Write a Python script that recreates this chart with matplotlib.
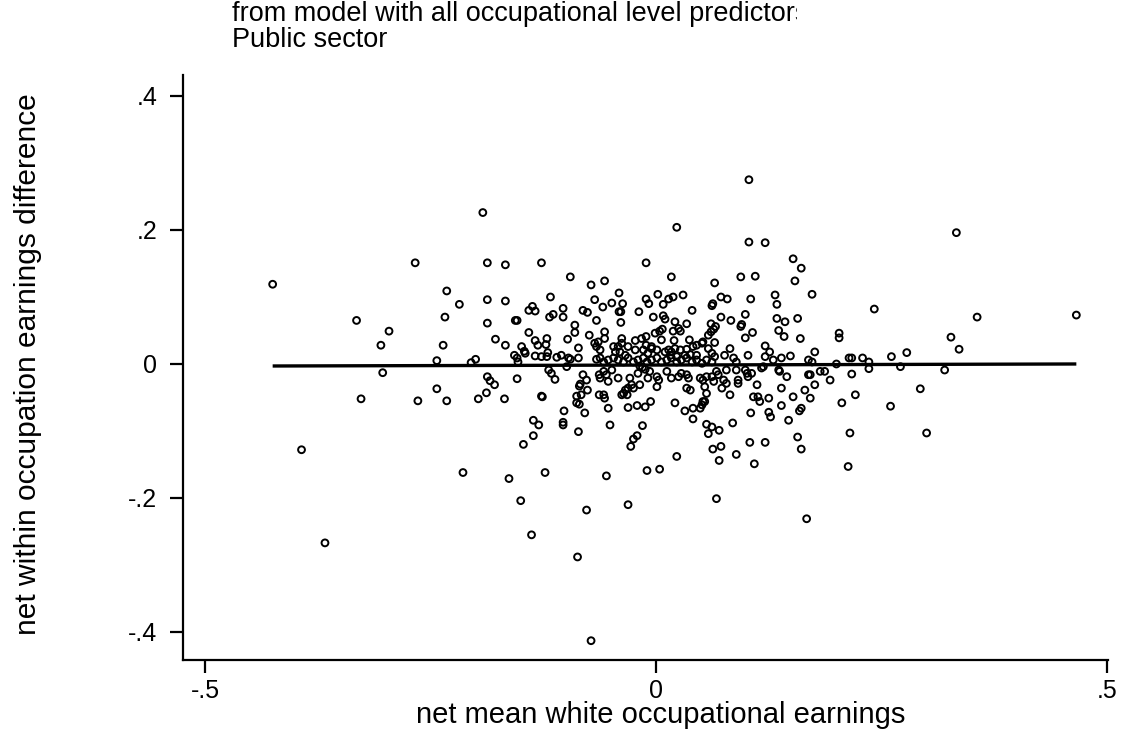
import numpy as np
import matplotlib
matplotlib.use("Agg")
import matplotlib.pyplot as plt
from matplotlib.transforms import Bbox, TransformedBbox

plt.rcParams['font.family'] = ['Liberation Sans', 'DejaVu Sans']

title_line1 = "from model with all occupational level predictors"
title_line2 = "Public sector"
x_label = "net mean white occupational earnings"
y_label = "net within occupation earnings difference"
x_ticks = [-0.5, 0, 0.5]
x_tick_labels = ["-.5", "0", ".5"]
y_ticks = [-0.4, -0.2, 0, 0.2, 0.4]
y_tick_labels = ["-.4", "-.2", "0", ".2", ".4"]

# (net mean white occupational earnings, net within occupation earnings difference)
outer_points = [
    (-0.425, 0.119), (-0.393, -0.128), (-0.367, -0.267), (-0.332, 0.065), (-0.327, -0.052),
    (-0.305, 0.028), (-0.303, -0.013), (-0.296, 0.049), (-0.267, 0.151), (-0.264, -0.055),
    (-0.243, 0.005), (-0.243, -0.037), (-0.236, 0.028), (-0.234, 0.070), (-0.232, 0.109),
    (-0.232, -0.055), (-0.218, 0.089), (-0.214, -0.162), (-0.205, 0.002), (-0.200, 0.007),
    (-0.197, -0.052), (-0.192, 0.226), (-0.163, -0.171), (-0.150, -0.204), (-0.138, -0.255),
    (-0.123, -0.162), (-0.087, -0.288), (-0.077, -0.218), (-0.072, -0.413), (-0.031, -0.210),
    (0.067, -0.201), (0.167, -0.231), (0.103, 0.275), (0.023, 0.204), (0.103, 0.182),
    (0.121, 0.181), (0.152, 0.157), (0.161, 0.143), (0.154, 0.124), (0.173, 0.104),
    (0.333, 0.196), (0.242, 0.082), (0.356, 0.070), (0.466, 0.073), (0.327, 0.040),
    (0.336, 0.022), (0.278, 0.017), (0.261, 0.011), (0.217, 0.009), (0.229, 0.009),
    (0.236, 0.003), (0.236, -0.007), (0.217, -0.015), (0.271, -0.004), (0.320, -0.009),
    (0.221, -0.046), (0.293, -0.037), (0.260, -0.063), (0.215, -0.103), (0.300, -0.103),
    (0.213, -0.153), (0.206, -0.058),
]

left_upper = [
    (-0.187, 0.151), (-0.167, 0.148), (-0.127, 0.151), (-0.095, 0.130), (-0.072, 0.118),
    (-0.187, 0.096), (-0.167, 0.094), (-0.117, 0.100), (-0.068, 0.096), (-0.137, 0.086),
    (-0.141, 0.080), (-0.134, 0.079), (-0.103, 0.083), (-0.103, 0.070), (-0.118, 0.070),
    (-0.114, 0.074), (-0.081, 0.080), (-0.076, 0.077), (-0.066, 0.065), (-0.187, 0.061),
    (-0.156, 0.065), (-0.154, 0.065), (-0.090, 0.058), (-0.178, 0.037), (-0.167, 0.028),
    (-0.141, 0.047), (-0.134, 0.035), (-0.131, 0.028), (-0.121, 0.038), (-0.122, 0.029),
    (-0.090, 0.047), (-0.098, 0.037), (-0.074, 0.043), (-0.068, 0.031), (-0.066, 0.026),
    (-0.064, 0.033), (-0.086, 0.024), (-0.149, 0.026), (-0.146, 0.019), (-0.145, 0.016),
    (-0.157, 0.013), (-0.154, 0.009), (-0.153, 0.003), (-0.134, 0.012), (-0.127, 0.011),
    (-0.121, 0.011), (-0.120, 0.017), (-0.110, 0.010), (-0.105, 0.013), (-0.097, 0.009),
    (-0.095, 0.007), (-0.086, 0.009), (-0.066, 0.007),
]

left_lower = [
    (-0.099, -0.004), (-0.119, -0.009), (-0.116, -0.014), (-0.112, -0.023), (-0.187, -0.019),
    (-0.184, -0.025), (-0.179, -0.031), (-0.154, -0.022), (-0.081, -0.016), (-0.077, -0.024),
    (-0.084, -0.030), (-0.085, -0.033), (-0.188, -0.043), (-0.076, -0.039), (-0.168, -0.052),
    (-0.127, -0.048), (-0.126, -0.049), (-0.088, -0.048), (-0.083, -0.046), (-0.088, -0.058),
    (-0.085, -0.060), (-0.102, -0.070), (-0.079, -0.073), (-0.136, -0.084), (-0.130, -0.091),
    (-0.103, -0.087), (-0.103, -0.091), (-0.136, -0.107), (-0.086, -0.101), (-0.147, -0.120),
    (-0.063, -0.016), (-0.063, -0.046),
]

center_upper = [
    (-0.011, 0.151), (0.017, 0.130), (-0.057, 0.124), (0.065, 0.121), (0.094, 0.130),
    (0.110, 0.131), (-0.041, 0.106), (0.002, 0.104), (-0.049, 0.091), (-0.037, 0.090),
    (-0.059, 0.085), (-0.011, 0.097), (-0.008, 0.090), (0.008, 0.089), (0.014, 0.097),
    (0.019, 0.100), (0.030, 0.103), (0.072, 0.100), (0.079, 0.097), (0.062, 0.087),
    (0.063, 0.090), (0.105, 0.097), (0.132, 0.103), (0.134, 0.089), (-0.019, 0.078),
    (-0.041, 0.078), (-0.039, 0.078), (-0.039, 0.062), (-0.003, 0.070), (0.008, 0.072),
    (0.010, 0.067), (0.021, 0.063), (0.034, 0.060), (0.040, 0.080), (0.061, 0.060),
    (0.072, 0.070), (0.083, 0.065), (0.099, 0.074), (0.095, 0.059), (0.134, 0.068),
    (0.143, 0.063), (0.157, 0.068),
    (-0.057, 0.038), (-0.057, 0.048), (-0.047, 0.026), (-0.042, 0.026), (-0.038, 0.038),
    (-0.038, 0.031), (-0.023, 0.035), (-0.016, 0.038), (-0.011, 0.041), (-0.011, 0.028),
    (-0.005, 0.026), (-0.001, 0.046), (0.004, 0.049), (0.007, 0.052), (0.006, 0.036),
    (0.019, 0.049), (0.025, 0.053), (0.027, 0.049), (0.020, 0.035), (0.037, 0.036),
    (0.052, 0.033), (0.058, 0.043), (0.061, 0.048), (0.064, 0.052), (0.066, 0.056),
    (0.065, 0.032), (0.094, 0.056), (0.107, 0.047), (0.099, 0.039), (0.136, 0.050),
    (0.142, 0.041), (0.160, 0.038), (0.203, 0.046), (0.203, 0.039), (-0.062, 0.021),
    (-0.045, 0.018), (-0.040, 0.018), (-0.031, 0.026), (-0.023, 0.021), (-0.014, 0.021),
    (-0.005, 0.023), (0.001, 0.021), (0.010, 0.018), (0.014, 0.021), (0.017, 0.018),
    (0.021, 0.023), (0.027, 0.021), (0.034, 0.022), (0.041, 0.026), (0.045, 0.028),
    (0.051, 0.031), (0.058, 0.023), (0.062, 0.016), (0.082, 0.023), (0.121, 0.027),
    (0.126, 0.018), (0.176, 0.018),
]

center_line = [
    (-0.034, 0.013), (-0.009, 0.016), (0.016, 0.013), (0.023, 0.011), (0.032, 0.013),
    (0.038, 0.014), (0.045, 0.013), (0.065, 0.011), (0.076, 0.013), (0.086, 0.009),
    (0.089, 0.003), (0.102, 0.013), (0.121, 0.011), (0.130, 0.006), (0.139, 0.009),
    (0.149, 0.012), (0.169, 0.006), (0.173, 0.003), (0.200, 0.000), (0.214, 0.009),
    (-0.062, 0.009), (-0.058, 0.003), (-0.053, 0.006), (-0.047, 0.009), (-0.042, 0.006),
    (-0.036, 0.003), (-0.031, 0.009), (-0.025, 0.003), (-0.020, 0.006), (-0.014, 0.009),
    (-0.010, 0.003), (-0.005, 0.006), (0.001, 0.009), (0.006, 0.003), (0.012, 0.006),
    (0.017, 0.009), (0.023, 0.003), (0.028, 0.006), (0.034, 0.009), (0.040, 0.003),
    (0.045, 0.006), (0.051, 0.001), (0.056, 0.006), (0.062, 0.003),
    (-0.015, -0.005), (-0.012, -0.008), (-0.018, -0.003),
    (-0.058, -0.011), (-0.049, -0.009), (-0.020, -0.014), (-0.007, -0.011), (0.012, -0.011),
    (0.028, -0.014), (0.067, -0.011), (0.078, -0.009), (0.089, -0.009), (0.099, -0.009),
    (0.101, -0.014), (0.106, -0.014), (0.119, -0.004), (0.117, -0.006), (0.136, -0.009),
    (0.137, -0.011), (0.182, -0.011), (0.187, -0.011),
]

center_lower = [
    (-0.055, -0.016), (-0.062, -0.021), (-0.053, -0.026), (-0.042, -0.021), (-0.029, -0.021),
    (-0.027, -0.031), (-0.031, -0.036), (-0.025, -0.036), (-0.018, -0.031), (-0.034, -0.039),
    (-0.036, -0.044), (-0.038, -0.046), (-0.032, -0.046), (-0.009, -0.021), (0.001, -0.019),
    (0.003, -0.024), (0.001, -0.034), (0.017, -0.021), (0.025, -0.019), (0.034, -0.016),
    (0.036, -0.021), (0.034, -0.036), (0.038, -0.039), (0.049, -0.021), (0.052, -0.024),
    (0.056, -0.019), (0.062, -0.019), (0.054, -0.034), (0.056, -0.044), (0.069, -0.016),
    (0.064, -0.026), (0.075, -0.024), (0.078, -0.029), (0.073, -0.036), (0.082, -0.046),
    (0.091, -0.024), (0.091, -0.029), (0.102, -0.019), (0.112, -0.031), (0.145, -0.019),
    (0.139, -0.036), (0.169, -0.016), (0.171, -0.016), (0.176, -0.031), (0.165, -0.039),
    (0.152, -0.049), (0.171, -0.051), (0.193, -0.024), (0.108, -0.049), (0.113, -0.049),
    (0.115, -0.056), (0.125, -0.051),
    (-0.058, -0.046), (-0.057, -0.051), (-0.053, -0.066), (-0.051, -0.091), (-0.031, -0.065),
    (-0.021, -0.062), (-0.012, -0.064), (-0.006, -0.056), (0.021, -0.058), (0.032, -0.070),
    (0.041, -0.066), (0.041, -0.082), (0.049, -0.066), (0.051, -0.061), (0.052, -0.056),
    (0.054, -0.056), (-0.015, -0.092), (-0.021, -0.107), (-0.025, -0.112), (-0.028, -0.123),
    (0.056, -0.090), (0.062, -0.094), (0.070, -0.099), (0.058, -0.104), (0.085, -0.088),
    (0.105, -0.073), (0.125, -0.072), (0.127, -0.079), (0.139, -0.062), (0.159, -0.070),
    (0.161, -0.066), (0.147, -0.084), (0.104, -0.117), (0.121, -0.117), (0.063, -0.127),
    (0.072, -0.123), (0.157, -0.109), (0.161, -0.127), (0.023, -0.138), (0.089, -0.135),
    (0.070, -0.144), (0.109, -0.149), (-0.010, -0.159), (0.004, -0.157), (-0.055, -0.167),
]

# fitted line end points
fit_x = [-0.425, 0.466]
fit_y = [-0.003, 0.000]

groups = [outer_points, left_upper, left_lower, center_upper, center_line, center_lower]
pts = np.array([p for g in groups for p in g])
xs, ys = pts[:, 0], pts[:, 1]

W, H = 1126, 736
fig = plt.figure(figsize=(W / 100, H / 100), dpi=100)
fig.patch.set_facecolor('white')

left_px, right_px, top_px, bottom_px = 183, 1108, 75, 660
ax = fig.add_axes([left_px / W, 1 - bottom_px / H, (right_px - left_px) / W, (bottom_px - top_px) / H])
ax.set_xlim(-0.5244, 0.5011)
ax.set_ylim(-0.4418, 0.4313)

ax.scatter(xs, ys, s=24, facecolors='none', edgecolors='black', linewidths=1.4, zorder=3)
ax.plot(fit_x, fit_y, color='black', lw=2.4, zorder=4, solid_capstyle='butt')

for side in ('top', 'right'):
    ax.spines[side].set_visible(False)
for side in ('left', 'bottom'):
    ax.spines[side].set_linewidth(1.6)
    ax.spines[side].set_color('black')

ax.set_xticks(x_ticks)
ax.set_xticklabels(x_tick_labels)
ax.set_yticks(y_ticks)
ax.set_yticklabels(y_tick_labels)
ax.tick_params(axis='both', direction='out', length=9.5, width=1.6, colors='black', labelsize=18)
ax.tick_params(axis='x', pad=4)
ax.tick_params(axis='y', pad=9)

ax.set_xlabel(x_label, fontsize=21)
ax.xaxis.set_label_coords((661 - left_px) / (right_px - left_px), -(715 - bottom_px) / (bottom_px - top_px))
ax.xaxis.label.set_va('center')
ax.set_ylabel(y_label, fontsize=21.5)
ax.yaxis.set_label_coords(-(left_px - 28) / (right_px - left_px), (bottom_px - 364) / (bottom_px - top_px))
ax.yaxis.label.set_va('center')

t1 = fig.text(232 / W, 1 - 14 / H, title_line1, fontsize=19.5, ha='left', va='center')
clip = TransformedBbox(Bbox([[0, 0], [797 / W, 1]]), fig.transFigure)
t1.set_clip_box(clip)
t1.set_clip_on(True)
fig.text(232 / W, 1 - 40 / H, title_line2, fontsize=19.5, ha='left', va='center')

fig.savefig('out.png', dpi=100, facecolor='white')
